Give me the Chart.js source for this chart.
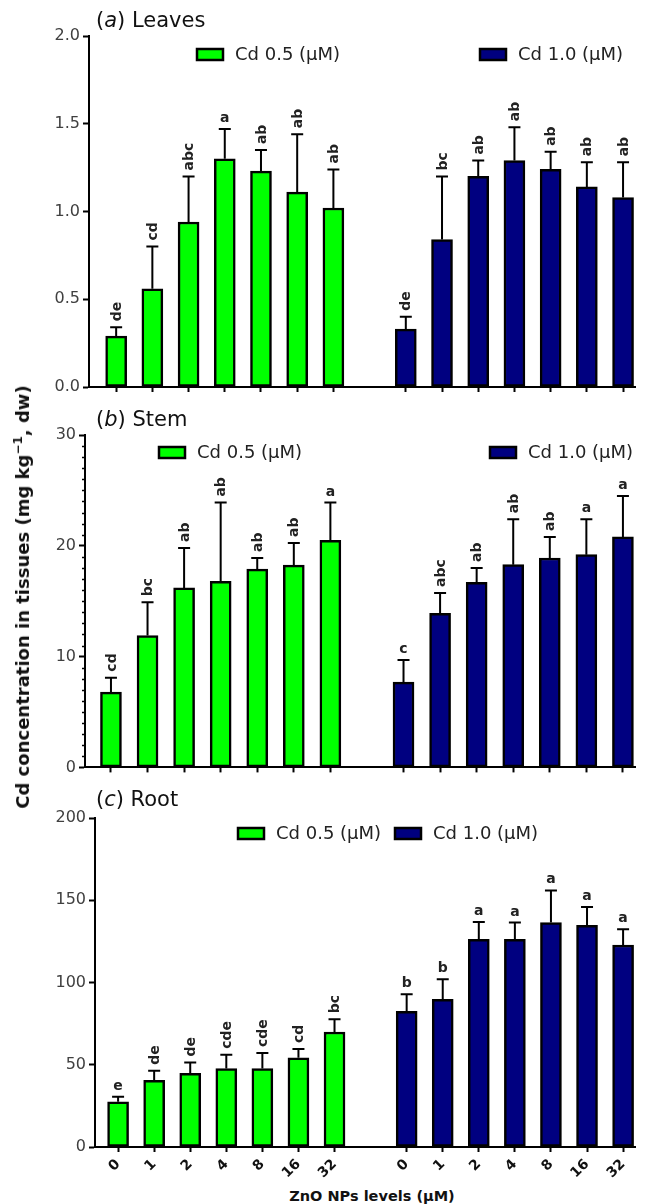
<!DOCTYPE html>
<html>
<head>
<meta charset="utf-8">
<script src="https://cdn.jsdelivr.net/npm/chart.js@4.4.1/dist/chart.umd.min.js"></script>
<style>
    body { margin: 0; background: #fff; }
    #page { position: relative; width: 646px; height: 1204px; overflow: hidden; font-family: "DejaVu Sans", "Liberation Sans", sans-serif; }
    .panel { position: absolute; left: 0; }
    .title { position: absolute; left: 96px; font-size: 21px; line-height: 24px; color: #111; white-space: nowrap; }
    #yTitle { position: absolute; left: 22px; top: 597px; font-weight: bold; font-size: 18px; white-space: nowrap; color: #111;
              transform: translate(-50%, -50%) rotate(-90deg); }
    #xTitle { position: absolute; left: 372px; top: 1196px; font-weight: bold; font-size: 14.5px; white-space: nowrap; color: #111;
              transform: translate(-50%, -50%); }
</style>
</head>
<body>
<div id="page">
    <canvas id="leavesChart" class="panel" style="top:0px" width="646" height="400"></canvas>
    <canvas id="stemChart" class="panel" style="top:400px" width="646" height="380"></canvas>
    <canvas id="rootChart" class="panel" style="top:790px" width="646" height="395"></canvas>
    <div class="title" style="top:8px">(<i>a</i>) Leaves</div>
    <div class="title" style="top:407px">(<i>b</i>) Stem</div>
    <div class="title" style="top:787px">(<i>c</i>) Root</div>
    <div id="yTitle">Cd concentration in tissues (mg kg<sup style="font-size:12px">−1</sup>, dw)</div>
    <div id="xTitle">ZnO NPs levels (μM)</div>
</div>
<script>
const doses = ['0', '1', '2', '4', '8', '16', '32'];
const seriesNames = ['Cd 0.5 (μM)', 'Cd 1.0 (μM)'];
const seriesColors = ['#00ff00', '#000080'];

// (a) Leaves
const leavesLow = [0.29, 0.56, 0.94, 1.30, 1.23, 1.11, 1.02];
const leavesLowSd = [0.05, 0.24, 0.26, 0.17, 0.12, 0.33, 0.22];
const leavesLowLetters = ['de', 'cd', 'abc', 'a', 'ab', 'ab', 'ab'];
const leavesHigh = [0.33, 0.84, 1.20, 1.29, 1.24, 1.14, 1.08];
const leavesHighSd = [0.07, 0.36, 0.09, 0.19, 0.10, 0.14, 0.20];
const leavesHighLetters = ['de', 'bc', 'ab', 'ab', 'ab', 'ab', 'ab'];
const leavesTicks = [0, 0.5, 1.0, 1.5, 2.0];

// (b) Stem
const stemLow = [6.8, 11.9, 16.2, 16.8, 17.9, 18.25, 20.5];
const stemLowSd = [1.3, 3.0, 3.6, 7.1, 1.0, 2.0, 3.4];
const stemLowLetters = ['cd', 'bc', 'ab', 'ab', 'ab', 'ab', 'a'];
const stemHigh = [7.7, 13.9, 16.7, 18.3, 18.9, 19.2, 20.8];
const stemHighSd = [2.0, 1.85, 1.3, 4.1, 1.9, 3.2, 3.7];
const stemHighLetters = ['c', 'abc', 'ab', 'ab', 'ab', 'a', 'a'];
const stemTicks = [0, 10, 20, 30];

// (c) Root
const rootLow = [27.5, 40.5, 44.8, 47.7, 47.7, 54.2, 69.9];
const rootLowSd = [3.0, 5.8, 6.6, 8.4, 9.4, 5.4, 7.7];
const rootLowLetters = ['e', 'de', 'de', 'cde', 'cde', 'cd', 'bc'];
const rootHigh = [82.5, 89.8, 126.3, 126.3, 136.4, 134.7, 122.8];
const rootHighSd = [10.4, 12.2, 10.5, 10.1, 19.6, 11.2, 9.5];
const rootHighLetters = ['b', 'b', 'a', 'a', 'a', 'a', 'a'];
const rootTicks = [0, 50, 100, 150, 200];

// slot layout: low-Cd group, one empty slot, high-Cd group
const lowSlots = doses.map((d, i) => i);
const highSlots = doses.map((d, i) => i + doses.length + 1);
const slotLabel = {};
lowSlots.forEach((s, i) => { slotLabel[s] = doses[i]; });
highSlots.forEach((s, i) => { slotLabel[s] = doses[i]; });

const errorBars = {
    id: 'errorBars',
    afterDatasetsDraw(chart) {
        const ctx = chart.ctx;
        const yScale = chart.scales.y;
        chart.data.datasets.forEach((ds, di) => {
            const meta = chart.getDatasetMeta(di);
            meta.data.forEach((bar, i) => {
                const top = yScale.getPixelForValue(ds.data[i].y + ds.sd[i]);
                ctx.save();
                ctx.strokeStyle = '#000';
                ctx.lineWidth = 2;
                ctx.beginPath();
                ctx.moveTo(bar.x, bar.y);
                ctx.lineTo(bar.x, top);
                ctx.moveTo(bar.x - 6, top);
                ctx.lineTo(bar.x + 6, top);
                ctx.stroke();

                const txt = ds.letters[i];
                ctx.fillStyle = '#222';
                ctx.font = 'bold 14px "DejaVu Sans"';
                if (txt.length === 1) {
                    ctx.textAlign = 'center';
                    ctx.textBaseline = 'alphabetic';
                    ctx.fillText(txt, bar.x, top - 7);
                } else {
                    ctx.translate(bar.x + 1, top - 6);
                    ctx.rotate(-Math.PI / 2);
                    ctx.textAlign = 'left';
                    ctx.textBaseline = 'middle';
                    ctx.fillText(txt, 0, 0);
                }
                ctx.restore();
            });
        });
    }
};

const boxLegend = {
    id: 'boxLegend',
    afterDraw(chart, args, opts) {
        const ctx = chart.ctx;
        chart.data.datasets.forEach((ds, di) => {
            const [x, y] = opts.spots[di];
            ctx.save();
            ctx.fillStyle = ds.backgroundColor;
            ctx.fillRect(x, y - 5, 26, 11);
            ctx.strokeStyle = '#000';
            ctx.lineWidth = 2.5;
            ctx.strokeRect(x, y - 5, 26, 11);
            ctx.font = '18px "DejaVu Sans"';
            ctx.fillStyle = '#222';
            ctx.textBaseline = 'middle';
            ctx.fillText(ds.label, x + 38, y + 1);
            ctx.restore();
        });
    }
};

// small unlabeled ticks between the majors (stem panel)
const minorTicks = {
    id: 'minorTicks',
    afterDraw(chart, args, opts) {
        if (!opts.step) return;
        const ctx = chart.ctx;
        const yScale = chart.scales.y;
        const x0 = chart.chartArea.left;
        ctx.save();
        ctx.strokeStyle = '#000';
        ctx.lineWidth = 1.5;
        const n = Math.round(yScale.max / opts.step);
        for (let k = 1; k < n; k++) {
            const v = k * opts.step;
            if (v % opts.major === 0) continue;
            const py = Math.round(yScale.getPixelForValue(v)) + 0.5;
            ctx.beginPath();
            ctx.moveTo(x0 - 3, py);
            ctx.lineTo(x0, py);
            ctx.stroke();
        }
        ctx.restore();
    }
};

function makeDataset(i, values, sd, letters, slots) {
    return {
        label: seriesNames[i],
        data: values.map((v, k) => ({ x: slots[k], y: v })),
        sd: sd,
        letters: letters,
        backgroundColor: seriesColors[i],
        borderColor: '#000',
        borderWidth: 2.5,
        borderSkipped: false,
        barThickness: 21,
        grouped: false
    };
}

function buildPanel(canvasId, o) {
    const allSlots = lowSlots.concat(highSlots);
    return new Chart(document.getElementById(canvasId), {
        type: 'bar',
        data: {
            datasets: [
                makeDataset(0, o.low, o.lowSd, o.lowLetters, lowSlots),
                makeDataset(1, o.high, o.highSd, o.highLetters, highSlots)
            ]
        },
        options: {
            responsive: false,
            animation: false,
            devicePixelRatio: 1,
            layout: { padding: { top: o.padTop, right: 11, bottom: 0, left: 0 } },
            scales: {
                x: {
                    type: 'linear',
                    min: o.xMin,
                    max: o.xMax,
                    offset: false,
                    afterBuildTicks: s => { s.ticks = allSlots.map(v => ({ value: v })); },
                    afterFit: s => { s.height = o.xHeight; },
                    ticks: {
                        autoSkip: false,
                        minRotation: 45,
                        maxRotation: 45,
                        padding: 4,
                        color: '#111',
                        font: { family: 'DejaVu Sans', size: 14, weight: 'bold' },
                        callback: v => (o.showDoses ? slotLabel[v] : '')
                    },
                    grid: { drawOnChartArea: false, drawTicks: true, tickLength: 5, tickWidth: 2, tickColor: '#000', offset: false },
                    border: { display: true, color: '#000', width: 2 }
                },
                y: {
                    min: 0,
                    max: o.ticks[o.ticks.length - 1],
                    afterBuildTicks: s => { s.ticks = o.ticks.map(v => ({ value: v })); },
                    afterFit: s => { s.width = o.axisX; },
                    ticks: {
                        color: '#404040',
                        padding: 3,
                        font: { family: 'DejaVu Sans', size: 16 },
                        callback: v => o.format(v)
                    },
                    grid: { drawOnChartArea: false, tickLength: 6, tickWidth: 2, tickColor: '#000' },
                    border: { display: true, color: '#000', width: 2 }
                }
            },
            plugins: {
                legend: { display: false },
                tooltip: { enabled: false },
                boxLegend: { spots: o.legendSpots },
                minorTicks: { step: o.minorStep, major: o.majorStep }
            }
        },
        plugins: [errorBars, boxLegend, minorTicks]
    });
}

buildPanel('leavesChart', {
    low: leavesLow, lowSd: leavesLowSd, lowLetters: leavesLowLetters,
    high: leavesHigh, highSd: leavesHighSd, highLetters: leavesHighLetters,
    ticks: leavesTicks, format: v => v.toFixed(1),
    axisX: 89, padTop: 36, xHeight: 13, xMin: -0.75, xMax: 14.33,
    showDoses: false, legendSpots: [[197, 54], [480, 54]]
});

buildPanel('stemChart', {
    low: stemLow, lowSd: stemLowSd, lowLetters: stemLowLetters,
    high: stemHigh, highSd: stemHighSd, highLetters: stemHighLetters,
    ticks: stemTicks, format: v => String(v),
    axisX: 85, padTop: 35, xHeight: 11, xMin: -0.71, xMax: 14.33,
    showDoses: false, legendSpots: [[159, 52], [490, 52]],
    minorStep: 1, majorStep: 10
});

buildPanel('rootChart', {
    low: rootLow, lowSd: rootLowSd, lowLetters: rootLowLetters,
    high: rootHigh, highSd: rootHighSd, highLetters: rootHighLetters,
    ticks: rootTicks, format: v => String(v),
    axisX: 95, padTop: 28, xHeight: 38, xMin: -0.64, xMax: 14.33,
    showDoses: true, legendSpots: [[238, 43], [395, 43]]
});
</script>
</body>
</html>
